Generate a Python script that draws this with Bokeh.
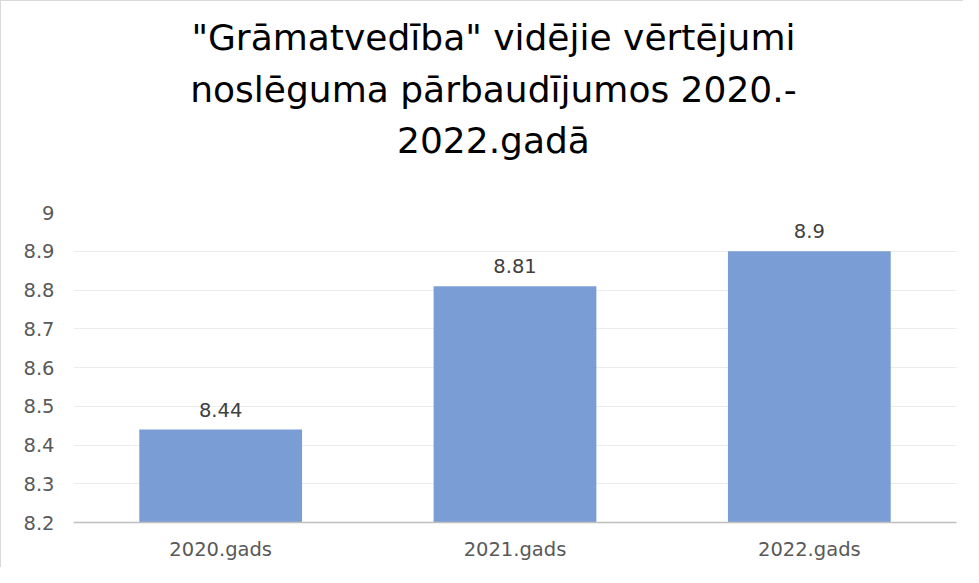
from bokeh.plotting import figure
from bokeh.models import FactorRange, Range1d, FixedTicker, NumeralTickFormatter, ColumnDataSource, LabelSet
from bokeh.layouts import column
from bokeh.core.properties import value
from bokeh.embed import file_html
from bokeh.resources import INLINE

categories = ["2020.gads", "2021.gads", "2022.gads"]
values = [8.44, 8.81, 8.9]
value_labels = ["8.44", "8.81", "8.9"]
y_ticks = [8.2, 8.3, 8.4, 8.5, 8.6, 8.7, 8.8, 8.9, 9.0]
title_lines = ['"Grāmatvedība" vidējie vērtējumi', 'noslēguma pārbaudījumos 2020.-', '2022.gadā']

FONT = "DejaVu Sans"
W = 963
TITLE_H = 202

# ---- title panel ----
tf = figure(width=W, height=TITLE_H, x_range=Range1d(0, W), y_range=Range1d(0, TITLE_H),
            output_backend="svg", toolbar_location=None, tools="",
            x_axis_location=None, y_axis_location=None,
            min_border_left=0, min_border_right=0, min_border_top=0, min_border_bottom=0,
            styles={"border-left": "1px solid #d9d9d9", "border-top": "1px solid #d9d9d9"})
tf.title.visible = False
tf.outline_line_color = None
tf.grid.visible = False
tf.text(x=[458, 458, 458], y=[TITLE_H - 36, TITLE_H - 87.5, TITLE_H - 139], text=title_lines,
        text_align="center", text_baseline="alphabetic", text_font=value(FONT),
        text_font_size="36px", text_color="#000000")

# ---- chart ----
p = figure(
    width=W, height=567 - TITLE_H,
    x_range=FactorRange(factors=categories),
    y_range=Range1d(8.2, 9.0),
    output_backend="svg", toolbar_location=None, tools="",
    min_border_left=72, min_border_right=8, min_border_bottom=45, min_border_top=10,
    styles={"border-left": "1px solid #d9d9d9"},
)
p.title.visible = False
p.outline_line_color = None

src = ColumnDataSource(dict(cat=categories, val=values, lbl=value_labels))
p.vbar(x="cat", top="val", bottom=8.2, width=0.553, source=src,
       fill_color="#7a9dd5", line_color=None)

labels = LabelSet(x="cat", y="val", text="lbl", source=src, text_align="center",
                  text_baseline="alphabetic", y_offset=13, text_font=value(FONT),
                  text_font_size="19.5px", text_color="#404040")
p.add_layout(labels)

p.xgrid.grid_line_color = None
p.ygrid.grid_line_color = "#ebebeb"
p.ygrid.grid_line_width = 1
p.ygrid.ticker = FixedTicker(ticks=y_ticks)

p.yaxis.ticker = FixedTicker(ticks=y_ticks)
p.yaxis.formatter = NumeralTickFormatter(format="0.[0]")
p.yaxis.axis_line_color = None
p.yaxis.major_tick_line_color = None
p.yaxis.minor_tick_line_color = None
p.yaxis.major_tick_out = 0
p.yaxis.major_tick_in = 0
p.yaxis.major_label_text_font = FONT
p.yaxis.major_label_text_font_size = "19.5px"
p.yaxis.major_label_text_color = "#595959"
p.yaxis.major_label_standoff = 19

p.xaxis.axis_line_color = "#bfbfbf"
p.xaxis.axis_line_width = 1.5
p.xaxis.major_tick_line_color = None
p.xaxis.minor_tick_line_color = None
p.xaxis.major_tick_out = 0
p.xaxis.major_tick_in = 0
p.xaxis.major_label_text_font = FONT
p.xaxis.major_label_text_font_size = "19.5px"
p.xaxis.major_label_text_color = "#595959"
p.xaxis.major_label_standoff = 15

layout = column(tf, p, spacing=0)
open("out.html", "w").write(file_html(layout, INLINE))
